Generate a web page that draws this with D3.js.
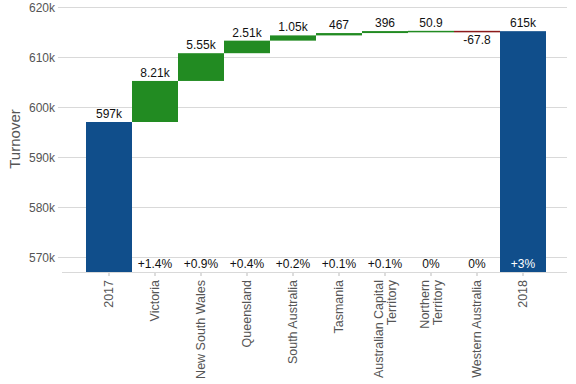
<!DOCTYPE html>
<html>
<head>
<meta charset="utf-8">
<script src="https://cdn.jsdelivr.net/npm/d3@7"></script>
<style>
  body { margin: 0; background: #fff; }
  svg { font-family: "Liberation Sans", Arial, sans-serif; display: block; }
</style>
</head>
<body>
<div id="chart"></div>
<script>
const categories = ["2017", "Victoria", "New South Wales", "Queensland", "South Australia",
  "Tasmania", "Australian Capital Territory", "Northern Territory", "Western Australia", "2018"];
const categoryLines = [["2017"], ["Victoria"], ["New South Wales"], ["Queensland"], ["South Australia"],
  ["Tasmania"], ["Australian Capital", "Territory"], ["Northern", "Territory"], ["Western Australia"], ["2018"]];
const startValue = 597100;
const changes = [8210, 5550, 2510, 1050, 467, 396, 50.9, -67.8];
const yTicks = [570000, 580000, 590000, 600000, 610000, 620000];

(function() {
    const width = 576, height = 384;
    const svg = d3.select("#chart").append("svg")
        .attr("width", width).attr("height", height);

    // build waterfall rows
    const rows = [];
    let cum = startValue;
    rows.push({name: categories[0], type: "total", start: null, end: startValue, value: startValue, pct: 0});
    changes.forEach((c, i) => {
        rows.push({name: categories[i + 1], type: c >= 0 ? "up" : "down", start: cum, end: cum + c, value: c, pct: c / startValue * 100});
        cum += c;
    });
    rows.push({name: categories[9], type: "total", start: null, end: cum, value: cum, pct: (cum - startValue) / startValue * 100});

    const x = d3.scaleBand().domain(categories).range([86, 546]).padding(0);
    const y = d3.scaleLinear().domain([567100, 620000]).range([272, 7.5]);

    const colors = {total: "#104E8B", up: "#228B22", down: "#8B1A1A"};
    const fmtVal = v => d3.format(".3s")(v).replace("−", "-");
    const fmtPct = p => {
        const r = Math.round(p * 10) / 10;
        return r === 0 ? "0%" : (r > 0 ? "+" : "") + r + "%";
    };

    // gridlines
    svg.append("g").selectAll("line").data(yTicks).enter().append("line")
        .attr("x1", 58).attr("x2", 567)
        .attr("y1", d => y(d)).attr("y2", d => y(d))
        .attr("stroke", "#d9d9d9").attr("stroke-width", 1);

    // y axis labels
    svg.append("g").selectAll("text").data(yTicks).enter().append("text")
        .attr("x", 55).attr("y", d => y(d)).attr("dy", "0.35em")
        .attr("text-anchor", "end")
        .style("font-size", "12px").style("fill", "#555")
        .text(d => (d / 1000) + "k");

    svg.append("text")
        .attr("transform", `translate(20,139) rotate(-90)`)
        .attr("text-anchor", "middle")
        .style("font-size", "15px").style("fill", "#555")
        .text("Turnover");

    // bars
    const y0 = y.range()[0];
    svg.append("g").selectAll("rect").data(rows).enter().append("rect")
        .attr("x", d => x(d.name))
        .attr("width", x.bandwidth())
        .attr("y", d => d.type === "total" ? y(d.end) : y(Math.max(d.start, d.end)))
        .attr("height", d => d.type === "total" ? y0 - y(d.end) : Math.max(1.5, Math.abs(y(d.start) - y(d.end))))
        .attr("fill", d => colors[d.type]);

    // bottom axis line + ticks
    svg.append("line").attr("x1", 62).attr("x2", 567).attr("y1", 272.5).attr("y2", 272.5)
        .attr("stroke", "#d9d9d9");
    svg.append("g").selectAll("line").data(categories).enter().append("line")
        .attr("x1", d => x(d) + x.bandwidth() / 2).attr("x2", d => x(d) + x.bandwidth() / 2)
        .attr("y1", 273).attr("y2", 276).attr("stroke", "#bbb");

    // value labels
    svg.append("g").selectAll("text").data(rows).enter().append("text")
        .attr("x", d => x(d.name) + x.bandwidth() / 2)
        .attr("y", d => d.type === "down" ? y(d.end) + 13 : y(d.end) - 4)
        .attr("text-anchor", "middle")
        .style("font-size", "12px").style("fill", "#111")
        .text(d => fmtVal(d.value));

    // percent labels
    svg.append("g").selectAll("text").data(rows.slice(1)).enter().append("text")
        .attr("x", d => x(d.name) + x.bandwidth() / 2)
        .attr("y", 268)
        .attr("text-anchor", "middle")
        .style("font-size", "12px")
        .style("fill", d => d.type === "total" ? "#fff" : "#111")
        .text(d => fmtPct(d.pct));

    // category labels, rotated
    const xl = svg.append("g").selectAll("text").data(categoryLines).enter().append("text")
        .attr("transform", (d, i) => `translate(${x(categories[i]) + x.bandwidth() / 2},280) rotate(-90)`)
        .attr("text-anchor", "end")
        .style("font-size", "12.5px").style("fill", "#555");
    xl.each(function(d) {
        const n = d.length;
        d3.select(this).selectAll("tspan").data(d).enter().append("tspan")
            .attr("x", 0)
            .attr("y", (t, j) => (j - (n - 1) / 2) * 12.5)
            .attr("dy", "0.35em")
            .text(t => t);
    });
})();
</script>
</body>
</html>
